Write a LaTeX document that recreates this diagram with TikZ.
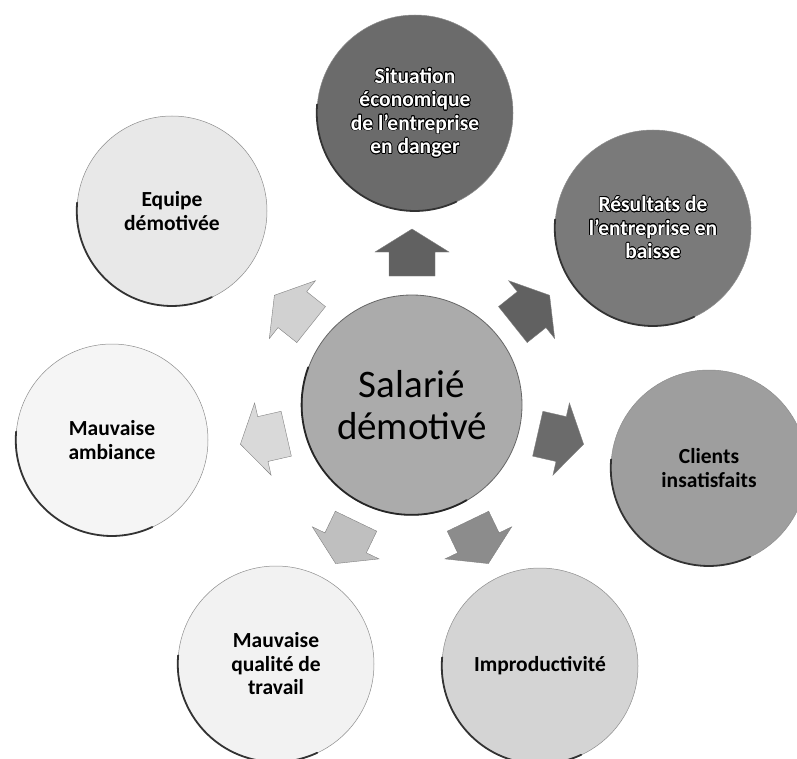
\documentclass[tikz,border=0pt]{standalone}
\usepackage{fontspec}
\setmainfont{Carlito}
\usepackage{contour}
\contourlength{0.7pt}
\contournumber{16}
\usetikzlibrary{calc}
\begin{document}
\begin{tikzpicture}[x=1pt,y=-1pt,
  bubble/.style={circle, minimum size=#1, inner sep=0pt, align=center,
    font=\bfseries\fontsize{21.5}{23.5}\selectfont, draw=black!45, line width=0.5pt},
  hub/.style={circle, minimum size=220pt, inner sep=0pt, align=center,
    font=\fontsize{39}{42}\selectfont, draw=black!60, line width=0.8pt},
  rim/.style={draw=black!80, line width=1.8pt, line cap=round},
  blockarrow/.style={draw=black!50, line width=0.4pt}
]
\useasboundingbox (0,0) rectangle (797,759);
\clip (0,0) rectangle (797,759);

% outer circles
\node[bubble=196pt, fill=black!58, text=white] (sit) at (415,113)
  {\contour{black}{Situation}\\\contour{black}{économique}\\\contour{black}{de l’entreprise}\\\contour{black}{en danger}};
\node[bubble=196pt, fill=black!52, text=white] (res) at (653,228)
  {\contour{black}{Résultats de}\\\contour{black}{l’entreprise en}\\\contour{black}{baisse}};
\node[bubble=196pt, fill=black!38] (cli) at (709,468)
  {Clients\\insatisfaits};
\node[bubble=196pt, fill=black!17] (imp) at (540,666)
  {Improductivité};
\node[bubble=196pt, fill=black!5] (qua) at (276,664)
  {Mauvaise\\qualité de\\travail};
\node[bubble=192pt, fill=black!4] (amb) at (112,440)
  {Mauvaise\\ambiance};
\node[bubble=190pt, fill=black!9] (equ) at (172,211)
  {Equipe\\démotivée};

% shadow rims (lower left edges)
\foreach \n/\r in {sit/98,res/98,cli/98,imp/98,qua/98,amb/96,equ/95}{
  \draw[rim] (\n.175) arc[start angle=-175, end angle=-295, radius=\r];
}

% centre
\node[hub, fill=black!33] (c) at (412,405) {Salarié\\démotivé};
\draw[rim, draw=black!85] (c.160) arc[start angle=-160, end angle=-300, radius=110];

% block arrows
\foreach \a/\g in {90/62, 38.57/62, -12.86/58, -64.29/45, -115.71/25, -167.14/15, 141.43/18}{
  \begin{scope}[shift={(c.center)}, rotate=\a]
    \filldraw[blockarrow, fill=black!\g]
      (129,-23) -- (153,-23) -- (153,-37) -- (176,0) -- (153,37) -- (153,23) -- (129,23) -- cycle;
  \end{scope}
}
\end{tikzpicture}
\end{document}
